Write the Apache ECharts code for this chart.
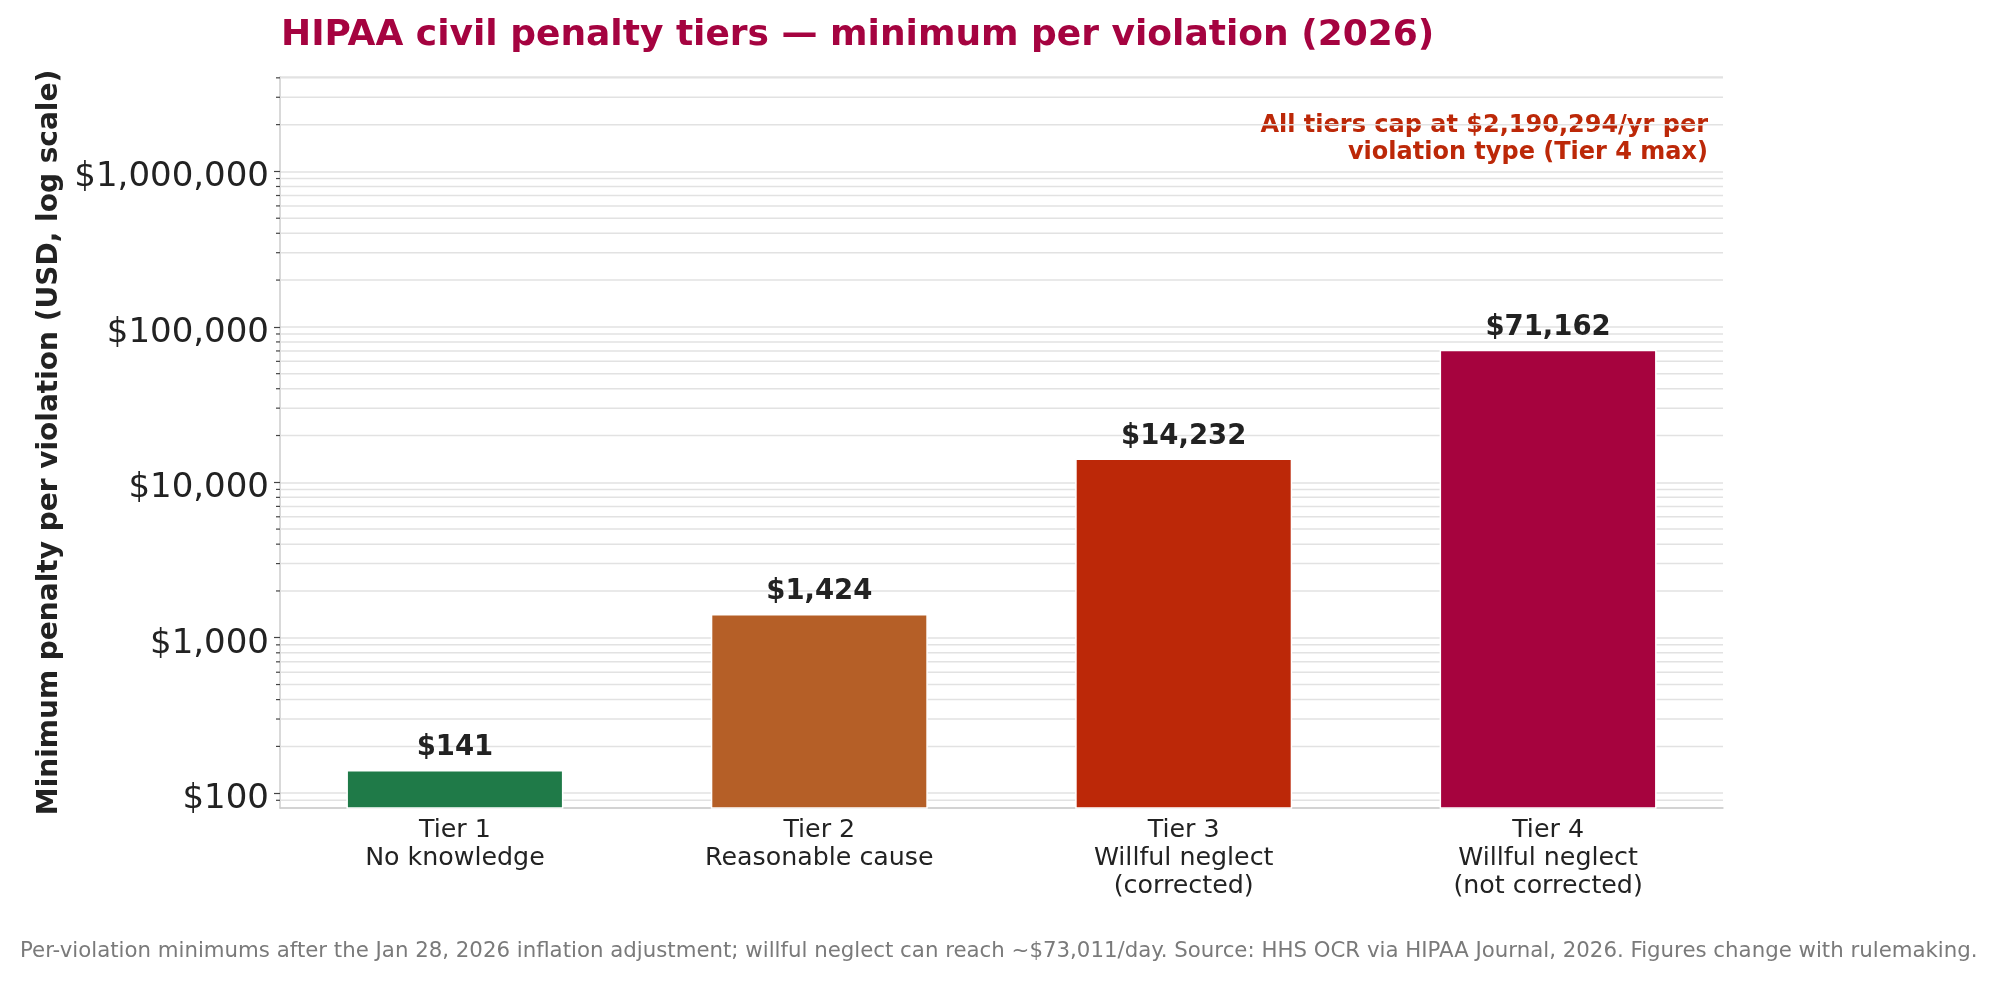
<!DOCTYPE html>
<html>
<head>
    <meta charset="UTF-8">
    <title>HIPAA civil penalty tiers</title>
    <script src="https://cdn.jsdelivr.net/npm/echarts@6/dist/echarts.min.js"></script>
</head>
<style type="text/css">
    html,
    body {
        margin: 0;
        padding: 0;
        background: #ffffff;
    }

    #main {
        width: 1999px;
        height: 981px;
    }
</style>
<body>
    <div id="main"></div>
</body>
<script>
    var tiers = ['Tier 1', 'Tier 2', 'Tier 3', 'Tier 4'];
    var tierNames = ['No knowledge', 'Reasonable cause', 'Willful neglect\n(corrected)', 'Willful neglect\n(not corrected)'];
    var minPenalty = [141, 1424, 14232, 71162];
    var barColors = ['#1f7a48', '#b55f27', '#bc2808', '#a6033e'];

    // log axis range and the 2..9 minor grid steps
    var yMin = 80.3;
    var yMax = 4.05e6;
    var decades = [10, 100, 1000, 10000, 100000, 1000000];
    var minorSteps = [2, 3, 4, 5, 6, 7, 8, 9];

    var font = 'DejaVu Sans';

    var minorValues = [];
    decades.forEach(function (d) {
        minorSteps.forEach(function (m) {
            var v = d * m;
            if (v > yMin && v < yMax) minorValues.push([0, v]);
        });
    });

    function money(v) {
        return '$' + Math.round(v).toLocaleString('en-US');
    }

    var myChart = echarts.init(document.getElementById('main'));

    var option = {
        backgroundColor: '#ffffff',
        animation: false,
        title: [{
            text: 'HIPAA civil penalty tiers \u2014 minimum per violation (2026)',
            left: 281,
            top: 18,
            padding: 0,
            textStyle: { fontFamily: font, fontSize: 36, fontWeight: 'bold', color: '#a50340' }
        }, {
            text: 'Per-violation minimums after the Jan 28, 2026 inflation adjustment; willful neglect can reach ~$73,011/day. Source: HHS OCR via HIPAA Journal, 2026. Figures change with rulemaking.',
            left: 20,
            top: 941,
            padding: 0,
            textStyle: { fontFamily: font, fontSize: 21.3, fontWeight: 'normal', color: '#7a7a7a' }
        }],
        graphic: [{
            type: 'text',
            x: 1708,
            y: 112,
            silent: true,
            style: {
                text: 'All tiers cap at $2,190,294/yr per\nviolation type (Tier 4 max)',
                align: 'right',
                verticalAlign: 'top',
                fontFamily: font,
                fontSize: 24,
                fontWeight: 'bold',
                lineHeight: 27,
                fill: '#bc2808'
            }
        }],
        grid: {
            left: 280,
            right: 276,
            top: 77,
            bottom: 173
        },
        xAxis: {
            type: 'value',
            min: -0.48,
            max: 3.48,
            splitLine: { show: false },
            axisTick: { show: false },
            axisLine: { show: true, onZero: false, lineStyle: { color: '#cccccc', width: 1.5 } },
            axisLabel: {
                customValues: [0, 1, 2, 3],
                formatter: function (v) {
                    var i = Math.round(v);
                    return tiers[i] + '\n' + tierNames[i];
                },
                fontFamily: font,
                fontSize: 25.3,
                lineHeight: 28,
                color: '#222222',
                margin: 8.5
            }
        },
        yAxis: {
            type: 'log',
            logBase: 10,
            min: yMin,
            max: yMax,
            name: 'Minimum penalty per violation (USD, log scale)',
            nameLocation: 'middle',
            nameGap: 214,
            nameTextStyle: { fontFamily: font, fontSize: 28, fontWeight: 'bold', color: '#222222' },
            axisLine: { show: true, onZero: false, lineStyle: { color: '#cccccc', width: 1.5 } },
            axisTick: { show: true, length: 6, lineStyle: { color: '#444444', width: 1.2 } },
            axisLabel: {
                formatter: function (v) { return '{v|' + money(v) + '}'; },
                showMinLabel: false,
                showMaxLabel: false,
                fontFamily: font,
                fontSize: 34,
                color: '#222222',
                margin: 11,
                rich: {
                    v: {
                        fontFamily: font,
                        fontSize: 34,
                        color: '#222222',
                        padding: [12, 0, 0, 0]
                    }
                }
            },
            splitLine: { show: true, lineStyle: { color: '#e2e2e2', width: 1.5 } }
        },
        series: [{
            type: 'custom',
            silent: true,
            z: 1,
            data: minorValues,
            renderItem: function (params, api) {
                var cs = params.coordSys;
                var y = api.coord([0, api.value(1)])[1];
                return {
                    type: 'group',
                    children: [{
                        type: 'line',
                        shape: { x1: cs.x, y1: y, x2: cs.x + cs.width, y2: y },
                        style: { stroke: '#e2e2e2', lineWidth: 1.5 }
                    }, {
                        type: 'line',
                        shape: { x1: cs.x - 4, y1: y, x2: cs.x, y2: y },
                        style: { stroke: '#444444', lineWidth: 1.2 }
                    }]
                };
            }
        }, {
            type: 'bar',
            z: 3,
            barWidth: 217,
            data: minPenalty.map(function (v, i) {
                return { value: [i, v], itemStyle: { color: barColors[i] } };
            }),
            itemStyle: { borderColor: '#ffffff', borderWidth: 1.5 },
            label: {
                show: true,
                position: 'top',
                distance: 8,
                formatter: function (p) { return money(p.value[1]); },
                fontFamily: font,
                fontSize: 27.5,
                fontWeight: 'bold',
                color: '#222222'
            }
        }]
    };

    myChart.setOption(option);
</script>
</html>
